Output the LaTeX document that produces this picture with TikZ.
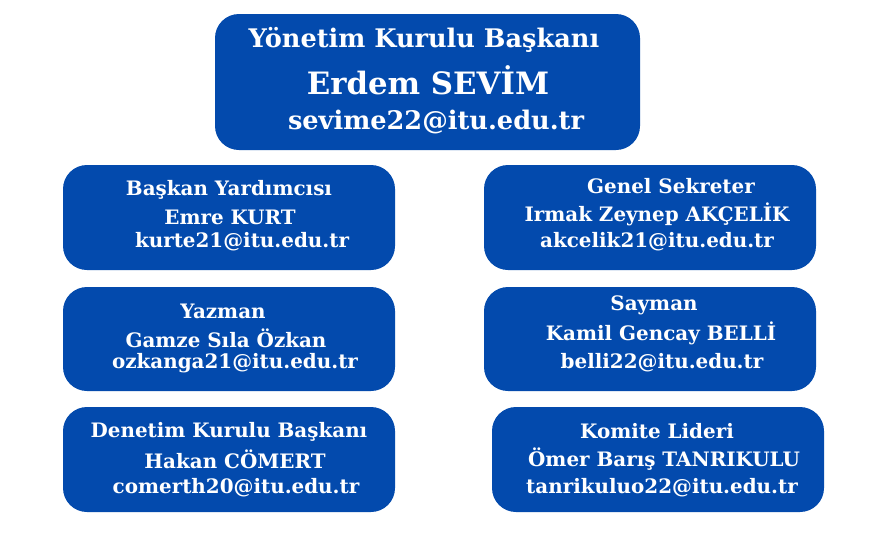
\documentclass[tikz,border=0pt]{standalone}
\usepackage{fontspec}
\setmainfont{DejaVu Serif}
\definecolor{boxblue}{HTML}{034AAD}
\begin{document}
\begin{tikzpicture}[x=1pt,y=-1pt,
  card/.style={fill=boxblue,draw=none,rounded corners=24pt},
  txt/.style={text=white,font=\bfseries\fontsize{19.9}{23}\selectfont,inner sep=0pt,anchor=center},
  bigtxt/.style={text=white,font=\bfseries\fontsize{25.6}{30}\selectfont,inner sep=0pt,anchor=center},
  hugetxt/.style={text=white,font=\bfseries\fontsize{30.8}{36}\selectfont,inner sep=0pt,anchor=center}]
\useasboundingbox (0,0) rectangle (874,549);
\fill[white] (0,0) rectangle (874,549);
% boxes
\path[card] (215,14) rectangle (640,150) node[midway] (top) {};
\path[card] (63,165) rectangle (395,270) node[midway] (l1) {};
\path[card] (63,287) rectangle (395,391) node[midway] (l2) {};
\path[card] (63,407) rectangle (395,512) node[midway] (l3) {};
\path[card] (484,165) rectangle (816,270) node[midway] (r1) {};
\path[card] (484,287) rectangle (816,391) node[midway] (r2) {};
\path[card] (492,407) rectangle (824,512) node[midway] (r3) {};
% top
\node[bigtxt] (t1) at (424,40) {Yönetim Kurulu Başkanı};
\node[hugetxt] (t2) at (428,80) {Erdem SEVİM};
\node[bigtxt] (t3) at (436,122) {sevime22@itu.edu.tr};
% left
\node[txt] (a1) at (229,190) {Başkan Yardımcısı};
\node[txt] (a2) at (230,217) {Emre KURT};
\node[txt] (a3) at (242,242) {kurte21@itu.edu.tr};
\node[txt] (b1) at (223,311) {Yazman};
\node[txt] (b2) at (226,338) {Gamze Sıla Özkan};
\node[txt] (b3) at (235,363) {ozkanga21@itu.edu.tr};
\node[txt] (c1) at (229,432) {Denetim Kurulu Başkanı};
\node[txt] (c2) at (235,459) {Hakan CÖMERT};
\node[txt] (c3) at (236,488) {comerth20@itu.edu.tr};
% right
\node[txt] (d1) at (671,186) {Genel Sekreter};
\node[txt] (d2) at (657,214) {Irmak Zeynep AKÇELİK};
\node[txt] (d3) at (657,242) {akcelik21@itu.edu.tr};
\node[txt] (e1) at (654,305) {Sayman};
\node[txt] (e2) at (661,333) {Kamil Gencay BELLİ};
\node[txt] (e3) at (662,363) {belli22@itu.edu.tr};
\node[txt] (f1) at (657,431) {Komite Lideri};
\node[txt] (f2) at (664,459) {Ömer Barış TANRIKULU};
\node[txt] (f3) at (662,488) {tanrikuluo22@itu.edu.tr};
\end{tikzpicture}
\end{document}
